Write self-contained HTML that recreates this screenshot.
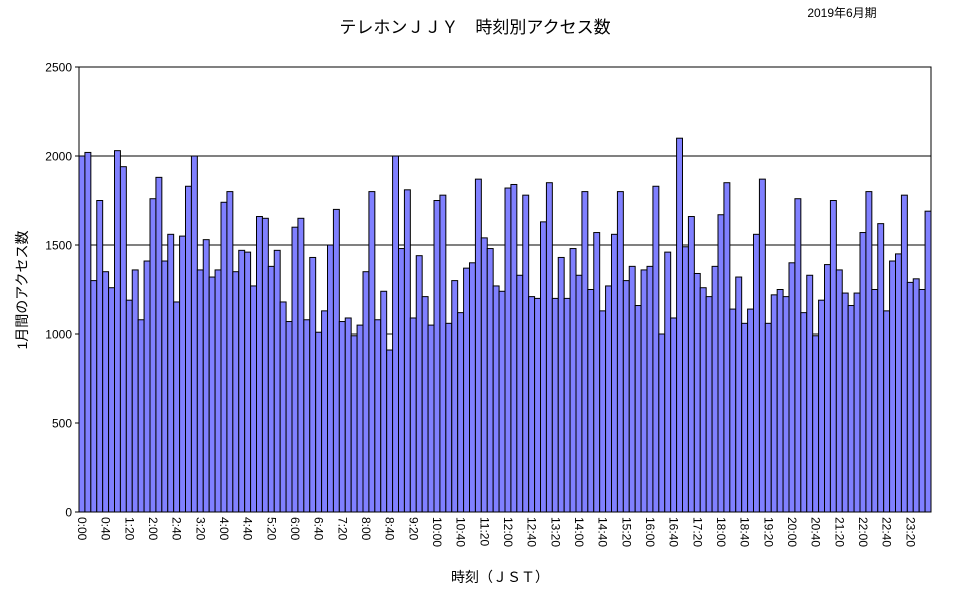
<!DOCTYPE html>
<html><head><meta charset="utf-8"><style>
html,body{margin:0;padding:0;background:#fff;width:967px;height:594px;overflow:hidden}
svg{display:block;font-family:"Liberation Sans","Noto Sans CJK JP",sans-serif}
</style></head><body>
<svg id="c" width="967" height="594" xmlns="http://www.w3.org/2000/svg">
<text x="475" y="33" font-size="17" text-anchor="middle">テレホンＪＪＹ　時刻別アクセス数</text>
<text x="842" y="17" font-size="12" text-anchor="middle">2019年6月期</text>
<text transform="translate(27,290) rotate(-90)" font-size="14" text-anchor="middle">1月間のアクセス数</text>
<text x="500" y="582" font-size="14" text-anchor="middle">時刻（ＪＳＴ）</text>
<g id="g"></g>
</svg>
<script>
var v=[2000,2020,1300,1750,1350,1260,2030,1940,1190,1360,
1080,1410,1760,1880,1410,1560,1180,1550,1830,2000,
1360,1530,1320,1360,1740,1800,1350,1470,1460,1270,
1660,1650,1380,1470,1180,1070,1600,1650,1080,1430,
1010,1130,1500,1700,1070,1090,990,1050,1350,1800,
1080,1240,910,2000,1480,1810,1090,1440,1210,1050,
1750,1780,1060,1300,1120,1370,1400,1870,1540,1480,
1270,1240,1820,1840,1330,1780,1210,1200,1630,1850,
1200,1430,1200,1480,1330,1800,1250,1570,1130,1270,
1560,1800,1300,1380,1160,1360,1380,1830,1000,1460,
1090,2100,1490,1660,1340,1260,1210,1380,1670,1850,
1140,1320,1060,1140,1560,1870,1060,1220,1250,1210,
1400,1760,1120,1330,990,1190,1390,1750,1360,1230,
1160,1230,1570,1800,1250,1620,1130,1410,1450,1780,
1290,1310,1250,1690];
var L=79,R=931,T=67,B=512,s='';
var k=(B-T)/2500,w=(R-L)/144;
for(var i=0;i<=5;i++){var y=B-i*500*k;
 if(i>0&&i<5)s+='<line x1="'+L+'" x2="'+R+'" y1="'+y+'" y2="'+y+'" stroke="#000" stroke-width="1"/>';
 s+='<text x="'+(L-7)+'" y="'+(y+4.5)+'" font-size="12" text-anchor="end">'+(i*500)+'</text>';
 s+='<line x1="'+(L-4)+'" x2="'+L+'" y1="'+y+'" y2="'+y+'" stroke="#000"/>';}
for(var i=0;i<144;i++){var x=L+i*w,h=v[i]*k;
 s+='<rect x="'+x.toFixed(2)+'" y="'+(B-h).toFixed(2)+'" width="'+w.toFixed(2)+'" height="'+h.toFixed(2)+'" fill="#8080ff" stroke="#000" stroke-width="1"/>';
 if(i%4==0){var m=i*10,lab=Math.floor(m/60)+':'+('0'+m%60).slice(-2);
  s+='<text transform="translate('+(x+w/2-4)+',517) rotate(90)" font-size="12">'+lab+'</text>';}}
s+='<rect x="'+L+'" y="'+T+'" width="'+(R-L)+'" height="'+(B-T)+'" fill="none" stroke="#000" stroke-width="1"/>';
document.getElementById('g').innerHTML=s;
</script>
</body></html>
